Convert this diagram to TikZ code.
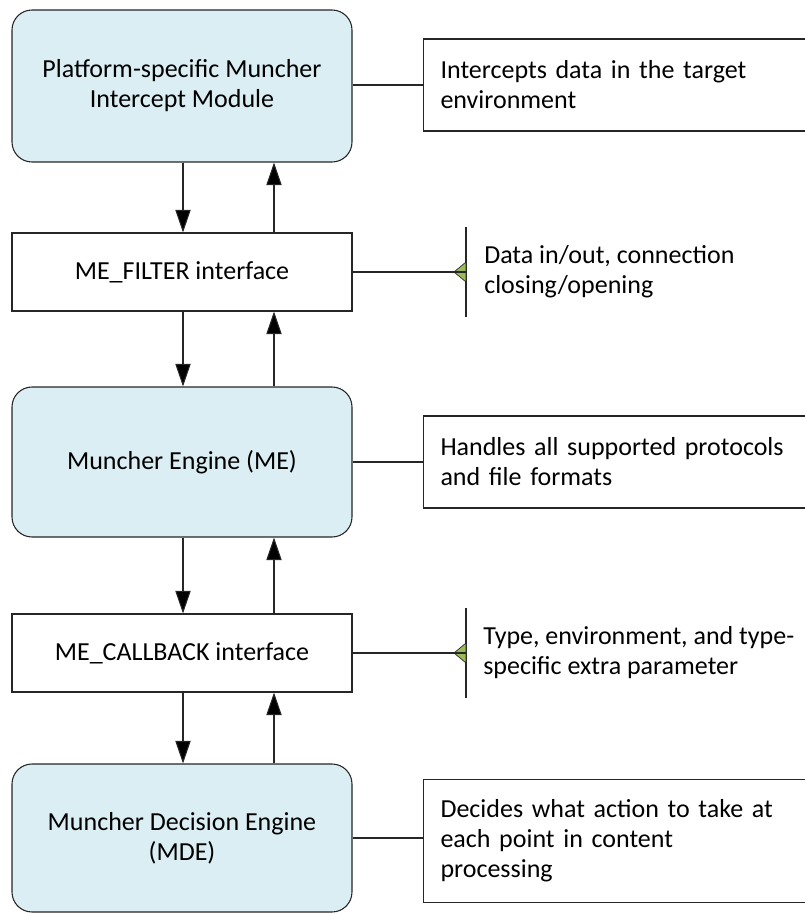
\documentclass[tikz,border=0pt]{standalone}
\usepackage{fontspec}
\setmainfont{Carlito}
\usetikzlibrary{arrows.meta}
\definecolor{boxblue}{HTML}{DAEEF3}
\definecolor{tipgreen}{HTML}{9BBB59}
\definecolor{edge}{HTML}{262626}
\tikzset{
  every node/.style={font=\fontsize{19.5}{22.5}\selectfont},
  mainbox/.style={draw=edge, line width=0.8pt, fill=boxblue, rounded corners=15pt,
    minimum width=255pt, align=center, inner sep=0pt},
  ifbox/.style={draw=edge, line width=0.8pt, fill=white, minimum width=255pt,
    minimum height=58.5pt, align=center, inner sep=0pt},
  notebox/.style={draw=edge, line width=0.8pt, minimum width=294pt, text width=268.5pt,
    inner xsep=12.75pt, inner ysep=0pt, align=left, anchor=west},
  notetext/.style={anchor=west, align=left, inner sep=0pt},
  link/.style={draw=edge, line width=0.8pt},
  flow/.style={draw=edge, line width=0.8pt, -{Triangle[length=17pt, width=11.5pt, fill=black]}},
  bracketline/.style={draw=edge, line width=0.8pt},
  greentip/.style={draw=edge, line width=0.5pt, fill=tipgreen}
}
\begin{document}
\begin{tikzpicture}[x=0.75pt, y=-0.75pt]
\useasboundingbox (0,0) rectangle (805,914);

% main column
\node[mainbox, minimum height=114pt] (pim) at (182,86) {Platform-specific Muncher\\Intercept Module};
\node[ifbox] (filter) at (182,272) {ME\_FILTER interface};
\node[mainbox, minimum height=112.5pt] (me) at (182,462) {Muncher Engine (ME)};
\node[ifbox] (cb) at (182,653) {ME\_CALLBACK interface};
\node[mainbox, minimum height=111pt] (mde) at (182,838) {Muncher Decision Engine\\(MDE)};

% arrow columns
\coordinate (dn) at (183,0);
\coordinate (up) at (274,0);

\draw[flow] (pim.south -| dn) -- (filter.north -| dn);
\draw[flow] (filter.north -| up) -- (pim.south -| up);
\draw[flow] (filter.south -| dn) -- (me.north -| dn);
\draw[flow] (me.north -| up) -- (filter.south -| up);
\draw[flow] (me.south -| dn) -- (cb.north -| dn);
\draw[flow] (cb.north -| up) -- (me.south -| up);
\draw[flow] (cb.south -| dn) -- (mde.north -| dn);
\draw[flow] (mde.north -| up) -- (cb.south -| up);

% note boxes (open to the right edge)
\node[notebox, minimum height=69pt] (n1) at (423,85) {Intercepts data in the target\\environment};
\node[notebox, minimum height=69pt] (n2) at (423,462) {Handles all supported protocols\\and file formats};
\node[notebox, minimum height=92.25pt] (n4) at (423,841) {Decides what action to take at\\each point in content\\processing};

\draw[link] (pim.east |- n1.west) -- (n1.west);
\draw[link] (me.east) -- (me.east -| n2.west);
\draw[link] (mde.east) -- (mde.east -| n4.west);

% bracket notes
\coordinate (b1) at (466,272);
\coordinate (b2) at (466,653);
\draw[bracketline] (466,227) -- (466,317);
\draw[bracketline] (466,608) -- (466,698);
\node[notetext] (t1) at (484,272) {Data in/out, connection\\closing/opening};
\node[notetext] (t2) at (483,653) {Type, environment, and type-\\specific extra parameter};

\filldraw[greentip] (b1) -- ++(0,-10) -- ++(-12,10) -- ++(12,10) -- cycle;
\filldraw[greentip] (b2) -- ++(0,-10) -- ++(-12,10) -- ++(12,10) -- cycle;
\draw[link] (filter.east) -- (b1);
\draw[link] (cb.east) -- (b2);
\end{tikzpicture}
\end{document}
